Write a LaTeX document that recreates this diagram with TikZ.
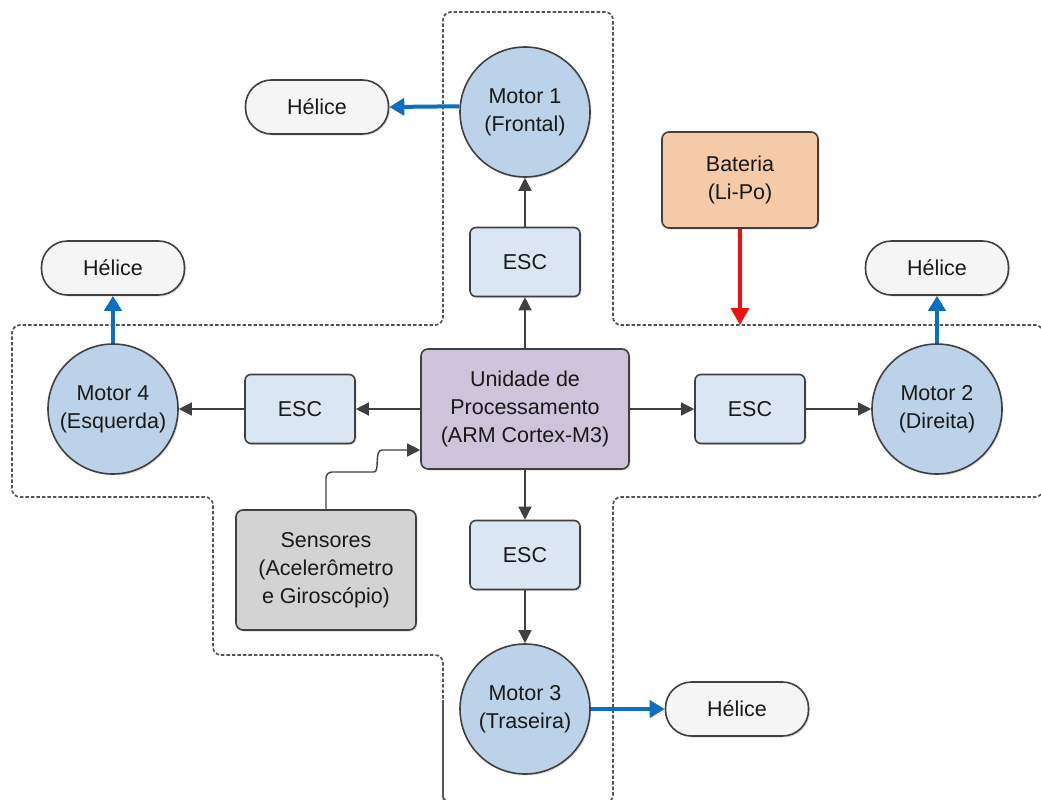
\documentclass[tikz,border=0pt]{standalone}
\usepackage{fontspec}
\setmainfont{Liberation Sans}
\usetikzlibrary{arrows.meta,shadows}
\definecolor{edge}{HTML}{404040}
\definecolor{motorfill}{HTML}{BBD2E8}
\definecolor{escfill}{HTML}{DAE6F2}
\definecolor{cpufill}{HTML}{CDC3DB}
\definecolor{batfill}{HTML}{F4CAA8}
\definecolor{senfill}{HTML}{D3D3D3}
\definecolor{propblue}{HTML}{0A6FC2}
\definecolor{battred}{HTML}{F01010}
\tikzset{
  base/.style={draw=edge, line width=1.6pt, text=black!90,
    font=\fontsize{21.5}{28}\selectfont, align=center,
    drop shadow={shadow xshift=1.5pt, shadow yshift=-1.5pt, opacity=0.25}},
  motor/.style={base, circle, fill=motorfill, minimum size=130pt, inner sep=0pt},
  escbox/.style={base, rectangle, rounded corners=6pt, fill=escfill,
    minimum width=110pt, minimum height=69pt},
  cpubox/.style={base, rectangle, rounded corners=7pt, fill=cpufill,
    minimum width=208pt, minimum height=120pt},
  batbox/.style={base, rectangle, rounded corners=7pt, fill=batfill,
    minimum width=156pt, minimum height=96pt},
  senbox/.style={base, rectangle, rounded corners=7pt, fill=senfill,
    minimum width=180pt, minimum height=120pt},
  prop/.style={base, rectangle, rounded corners=26pt, fill=white!96!black,
    minimum width=143pt, minimum height=54pt},
  sig/.style={draw=edge, line width=1.4pt, -{Triangle[length=13pt,width=13pt]}},
  spin/.style={draw=propblue, line width=4pt, -{Triangle[length=15pt,width=17pt]}},
  power/.style={draw=battred, line width=3.5pt, -{Triangle[length=17pt,width=18pt]}},
  frame/.style={draw=edge!90, line width=1.7pt, dash pattern=on 3.5pt off 2pt,
    rounded corners=8pt}
}
\begin{document}
\begin{tikzpicture}[x=1pt, y=-1pt]
\useasboundingbox (0,0) rectangle (1041,800);

% dashed cross-shaped airframe outline
\draw[frame] (443,825) -- (443,655) -- (213,655) -- (213,497) -- (12,497)
  -- (12,325) -- (443,325) -- (443,12) -- (613,12) -- (613,325) -- (1043,325)
  -- (1043,497) -- (613,497) -- (613,803) -- (443,803) -- (443,700);

% blocks
\node[cpubox] (cpu) at (525,409) {Unidade de\\Processamento\\(ARM Cortex-M3)};
\node[escbox] (escN) at (525,262) {ESC};
\node[escbox] (escW) at (300,409) {ESC};
\node[escbox] (escE) at (750,409) {ESC};
\node[escbox] (escS) at (525,555) {ESC};
\node[motor] (m1) at (525,112) {Motor 1\\(Frontal)};
\node[motor] (m4) at (113,409) {Motor 4\\(Esquerda)};
\node[motor] (m2) at (937,409) {Motor 2\\(Direita)};
\node[motor] (m3) at (525,709) {Motor 3\\(Traseira)};
\node[prop] (pN) at (317,107) {Hélice};
\node[prop] (pW) at (113,268) {Hélice};
\node[prop] (pE) at (937,268) {Hélice};
\node[prop] (pS) at (737,709) {Hélice};
\node[batbox] (bat) at (740,180) {Bateria\\(Li-Po)};
\node[senbox] (sen) at (326,570) {Sensores\\(Acelerômetro\\e Giroscópio)};
\coordinate (busin) at (740,325);

% control signals
\draw[sig] (cpu.north) -- (escN.south);
\draw[sig] (escN.north) -- (m1.south);
\draw[sig] (cpu.west) -- (escW.east);
\draw[sig] (escW.west) -- (m4.east);
\draw[sig] (cpu.east) -- (escE.west);
\draw[sig] (escE.east) -- (m2.west);
\draw[sig] (cpu.south) -- (escS.north);
\draw[sig] (escS.south) -- (m3.north);

% sensor feed with a line hop
\draw[sig, rounded corners=6pt] (sen.north) -- (326,472) -- (368,472)
  .. controls (380,472) and (374,450) .. (388,450) -- (cpu.west |- 0,450);

% propeller drives
\draw[spin] (m1.175.6) -- (pN.east);
\draw[spin] (m4.north) -- (pW.south);
\draw[spin] (m2.north) -- (pE.south);
\draw[spin] (m3.east) -- (pS.west);

% power
\draw[power] (bat.south) -- (busin);
\end{tikzpicture}
\end{document}
